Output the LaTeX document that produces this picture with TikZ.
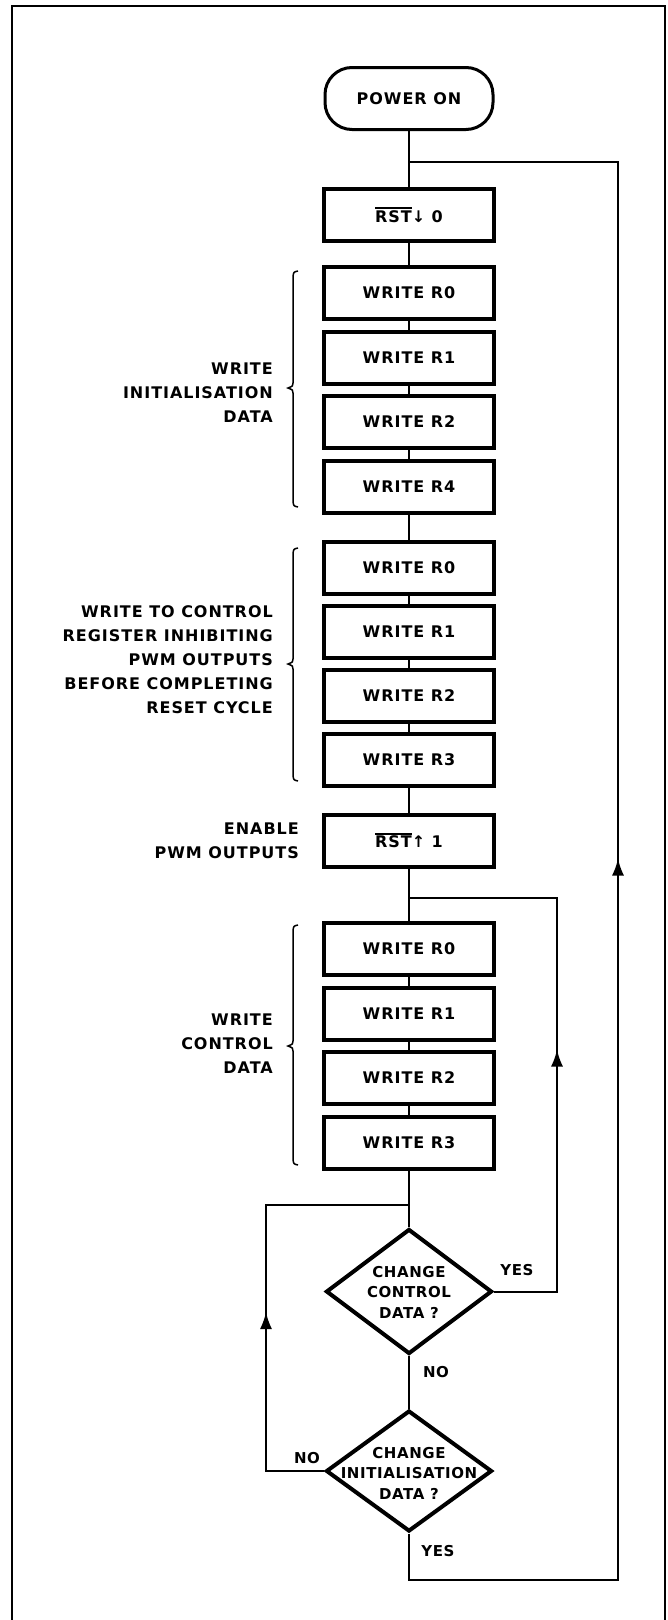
\documentclass[tikz,border=0pt]{standalone}
\usepackage{fontspec}
\setmainfont{DejaVu Sans}
\newfontfamily\lblfont{DejaVu Sans}[LetterSpace=6]
\newfontfamily\diafont{DejaVu Sans}[LetterSpace=4]
\usetikzlibrary{shapes.geometric,arrows.meta,decorations.markings}
\newcommand\myovl[1]{\setbox0\hbox{#1}\rlap{\rule[\dimexpr\ht0+1.5pt\relax]{\wd0}{1.8pt}}\box0}
\newcommand\mybrace[3]{%
  \draw[brc] (298,#1) .. controls (293.5,{#1+1}) .. (293,{#1+6})
    -- (293,{#2-5}) .. controls (293,{#2-2}) .. (288,#2)
    .. controls (293,{#2+2}) .. (293,{#2+5})
    -- (293,{#3-6}) .. controls (293.5,{#3-1}) .. (298,#3);}
\begin{document}
\begin{tikzpicture}[x=1pt,y=-1pt,
  every node/.style={font=\lblfont\bfseries\fontsize{16}{24}\selectfont, inner sep=0pt},
  box/.style={draw, line width=4pt, minimum width=170pt, minimum height=52pt},
  term/.style={draw, line width=3pt, rounded corners=27pt, minimum width=168pt, minimum height=62pt},
  dia/.style={draw, diamond, line width=4pt, minimum width=166pt},
  dtext/.style={align=center, font=\diafont\bfseries\fontsize{15}{20.5}\selectfont},
  lbl/.style={align=right, anchor=east},
  small/.style={font=\diafont\bfseries\fontsize{15}{20}\selectfont},
  conn/.style={line width=2pt},
  brc/.style={line width=1.5pt},
  midarrow/.style={postaction={decorate}, decoration={markings,
     mark=at position #1 with {\arrow{Latex[length=17pt,width=12pt]}}}}
]
\useasboundingbox (0,0) rectangle (667,1620);
\clip (0,0) rectangle (667,1620);
\fill[white] (0,0) rectangle (667,1620);
% frame
\draw[line width=2pt] (12,1630) -- (12,6) -- (665,6) -- (665,1630);

% main column
\node[term] (pwr) at (409,98.5) {POWER ON};
\node[box] (rst0) at (409,215) {\myovl{RST}↓ 0};

\node[box] (g1a) at (409,293) {WRITE R0};
\node[box] (g1b) at (409,357.5) {WRITE R1};
\node[box] (g1c) at (409,422) {WRITE R2};
\node[box] (g1d) at (409,486.5) {WRITE R4};

\node[box] (g2a) at (409,568) {WRITE R0};
\node[box] (g2b) at (409,632) {WRITE R1};
\node[box] (g2c) at (409,696) {WRITE R2};
\node[box] (g2d) at (409,760) {WRITE R3};

\node[box] (rst1) at (409,840.5) {\myovl{RST}↑ 1};

\node[box] (g3a) at (409,949) {WRITE R0};
\node[box] (g3b) at (409,1013.5) {WRITE R1};
\node[box] (g3c) at (409,1078) {WRITE R2};
\node[box] (g3d) at (409,1142.5) {WRITE R3};

\node[dia, minimum height=125pt] (d1) at (409,1291.5) {};
\node[dtext] (d1t) at (409,1292) {CHANGE\\CONTROL\\DATA ?};
\node[dia, minimum height=121pt] (d2) at (409,1471) {};
\node[dtext] (d2t) at (409,1473) {CHANGE\\INITIALISATION\\DATA ?};

% side labels
\node[lbl] (l1) at (273,393) {WRITE\\INITIALISATION\\DATA};
\node[lbl] (l2) at (273,660) {WRITE TO CONTROL\\REGISTER INHIBITING\\PWM OUTPUTS\\BEFORE COMPLETING\\RESET CYCLE};
\node[lbl] (l3) at (273,1044) {WRITE\\CONTROL\\DATA};
\node[lbl] (l4) at (299,840.5) {ENABLE\\PWM OUTPUTS};

\node[small] (yes1) at (517,1270) {YES};
\node[small] (no1) at (436,1372) {NO};
\node[small] (no2) at (307,1458) {NO};
\node[small] (yes2) at (438,1551) {YES};

% braces
\mybrace{271}{388}{507}
\mybrace{548}{664}{781}
\mybrace{925}{1046}{1165}

% connectors
\draw[conn] (pwr) -- (rst0);
\draw[conn] (rst0) -- (g1a);
\draw[conn] (g1a) -- (g1b);
\draw[conn] (g1b) -- (g1c);
\draw[conn] (g1c) -- (g1d);
\draw[conn] (g1d) -- (g2a);
\draw[conn] (g2a) -- (g2b);
\draw[conn] (g2b) -- (g2c);
\draw[conn] (g2c) -- (g2d);
\draw[conn] (g2d) -- (rst1);
\draw[conn] (rst1) -- (g3a);
\draw[conn] (g3a) -- (g3b);
\draw[conn] (g3b) -- (g3c);
\draw[conn] (g3c) -- (g3d);
\draw[conn] (g3d) -- (d1);
\draw[conn] (d1) -- (d2);

\coordinate (jtop) at (409,162);
\coordinate (jmid) at (409,898);
\coordinate (jlow) at (409,1205);
\coordinate (bl) at (409,1580);
\coordinate (br) at (618,1580);
\coordinate (tr) at (618,162);
\coordinate (ir) at (557,1291.5);
\coordinate (irt) at (557,898);
\coordinate (ll) at (266,1471);
\coordinate (llt) at (266,1205);

\draw[conn, midarrow=977pt] (d2.south) -- (bl) -- (br) -- (tr) -- (jtop);
\draw[conn, midarrow=305pt] (d1.east) -- (ir) -- (irt) -- (jmid);
\draw[conn, midarrow=217pt] (d2.west) -- (ll) -- (llt) -- (jlow);
\end{tikzpicture}
\end{document}
